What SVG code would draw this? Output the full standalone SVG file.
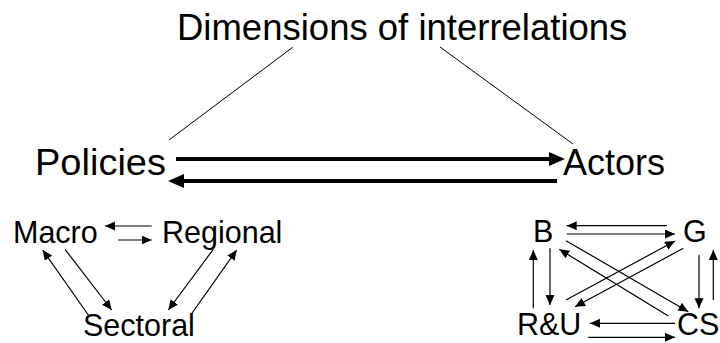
<svg xmlns="http://www.w3.org/2000/svg" width="720" height="343" viewBox="0 0 720 343">
  <style>
    text { font-family: "Liberation Sans", Arial, sans-serif; fill: #000; }
    .title { font-size: 36.5px; }
    .main { font-size: 36px; }
    .sub { font-size: 30.5px; }
    .thin { stroke: #000; stroke-width: 1; fill: none; }
    .arr { stroke: #000; stroke-width: 1.2; fill: none; marker-end: url(#head); }
    .bold { stroke: #000; stroke-width: 4; fill: none; marker-end: url(#bighead); }
  </style>
  <defs>
    <marker id="head" markerUnits="userSpaceOnUse" markerWidth="11" markerHeight="10" refX="10" refY="4.5" orient="auto">
      <path d="M0,0 L10,4.5 L0,9 z" fill="#000"/>
    </marker>
    <marker id="bighead" markerUnits="userSpaceOnUse" markerWidth="17" markerHeight="15" refX="0" refY="7" orient="auto">
      <path d="M0,0 L16,7 L0,14 z" fill="#000"/>
    </marker>
  </defs>

  <g id="title"><text class="title" x="177" y="40">Dimensions of interrelations</text></g>
  <g id="policies"><text class="main" x="35" y="175" textLength="131" lengthAdjust="spacingAndGlyphs">Policies</text></g>
  <g id="actors"><text class="main" x="563" y="175">Actors</text></g>

  <g id="macro"><text class="sub" x="13" y="243">Macro</text></g>
  <g id="regional"><text class="sub" x="162" y="243">Regional</text></g>
  <g id="sectoral"><text class="sub" x="83" y="336">Sectoral</text></g>

  <g id="b"><text class="sub" x="533" y="242">B</text></g>
  <g id="g"><text class="sub" x="683" y="242">G</text></g>
  <g id="ru"><text class="sub" x="517" y="335">R&amp;U</text></g>
  <g id="cs"><text class="sub" x="677" y="335">CS</text></g>

  <g id="connectors">
    <!-- title to the two dimensions -->
    <line class="thin" x1="292.7" y1="47.3" x2="169" y2="140"/>
    <line class="thin" x1="440" y1="47" x2="573" y2="144"/>

    <!-- policies / actors -->
    <line class="bold" x1="176" y1="159" x2="549" y2="159"/>
    <line class="bold" x1="557" y1="181" x2="184" y2="181"/>

    <!-- policy levels -->
    <line class="arr" x1="151.7" y1="226" x2="105" y2="226"/>
    <line class="arr" x1="118" y1="240" x2="151.7" y2="240"/>
    <line class="arr" x1="88.3" y1="315" x2="42.7" y2="250"/>
    <line class="arr" x1="65" y1="249.3" x2="111.7" y2="310"/>
    <line class="arr" x1="213.3" y1="249.3" x2="168.3" y2="310"/>
    <line class="arr" x1="190.7" y1="315" x2="236.7" y2="250"/>

    <!-- actors -->
    <line class="arr" x1="666.7" y1="225.7" x2="566.7" y2="225.7"/>
    <line class="arr" x1="566.7" y1="234" x2="675" y2="234"/>
    <line class="arr" x1="550" y1="248.3" x2="550" y2="305"/>
    <line class="arr" x1="533.3" y1="308.3" x2="533.3" y2="250"/>
    <line class="arr" x1="699" y1="255" x2="699" y2="308.3"/>
    <line class="arr" x1="713.3" y1="300" x2="713.3" y2="250"/>
    <line class="arr" x1="675" y1="323.3" x2="590" y2="323.3"/>
    <line class="arr" x1="588.3" y1="337.3" x2="675" y2="337.3"/>
    <line class="arr" x1="566" y1="240.7" x2="688.3" y2="311.7"/>
    <line class="arr" x1="668.3" y1="316" x2="559.3" y2="249.3"/>
    <line class="arr" x1="566" y1="300" x2="675" y2="241"/>
    <line class="arr" x1="683.3" y1="248.3" x2="575" y2="306.7"/>
  </g>
</svg>
